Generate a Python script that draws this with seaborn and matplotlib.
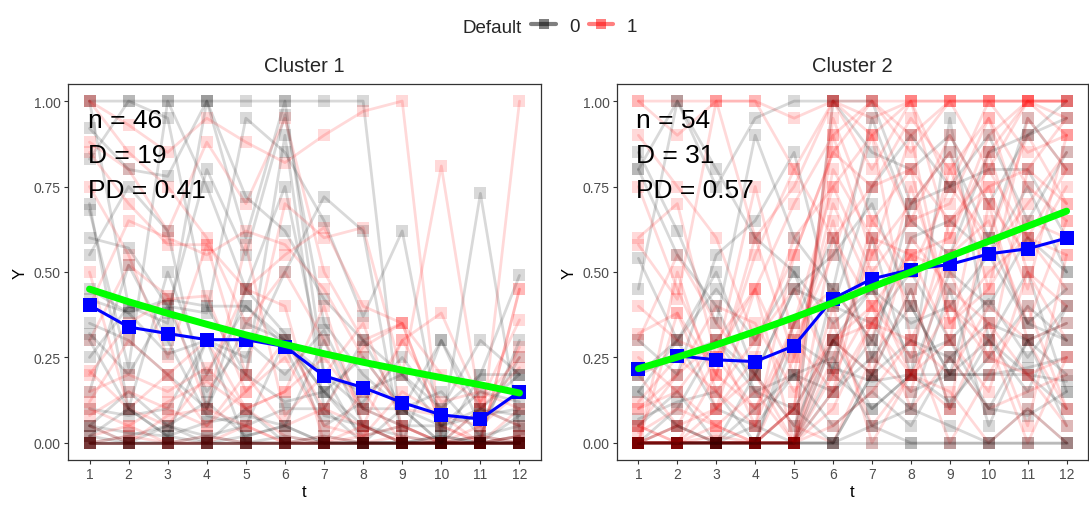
import numpy as np
import pandas as pd
import matplotlib
matplotlib.use("Agg")
import matplotlib.pyplot as plt
from matplotlib.lines import Line2D
import seaborn as sns

# ---------------- data ----------------
t_vals = list(range(1, 13))

c1_traj = [
    [1, 1, 1, 1, 1, 1, 1, 1, 0, 0, 0, 0],
    [1, .93, .85, .95, .88, .82, .9, .97, 1, 0, 0, 0],
    [1, .4, .35, 1, .6, 1, .2, 0, 0, 0, 0, 0],
    [1, .85, .75, .6, .35, .5, .3, .1, .05, 0, 0, 1],
    [.83, 1, .95, .4, .2, .9, .1, 0, 0, 0, .02, 0],
    [.88, .8, .62, .88, .7, .95, .5, .3, .35, .05, 0, .45],
    [.68, .22, 1, .75, .45, .32, .08, .05, 0, 0, 0, .02],
    [.75, .55, .25, .58, .2, .7, .6, .63, .2, .81, .1, .22],
    [.6, .57, .4, .38, .95, .85, .65, .37, .62, .03, .73, .04],
    [.5, .1, .2, .3, .1, .15, .4, .05, .3, .38, .12, .36],
    [.45, .38, .42, .4, .4, .28, .05, .12, .25, .1, .2, .49],
    [.3, .52, .43, .1, .58, .08, .2, .35, .05, 0, 0, .1],
    [.42, .38, .26, .3, .25, .5, .72, .62, 0, .3, .05, .25],
    [.35, .3, .2, .1, .35, .3, .2, .15, .2, .1, .3, .2],
    [.2, .35, .42, .43, .15, .3, .1, .28, .35, .05, 0, .45],
    [.32, .2, .4, .15, .3, .2, .33, .1, .1, .3, .1, .05],
    [.21, .1, .05, .2, .45, .4, 0, .15, 0, 0, .05, .28],
    [.15, .52, .3, .08, .05, .1, .1, .3, .1, 0, .1, .2],
    [.15, .2, .15, .22, .1, .15, .25, .1, .3, .12, .15, .1],
    [.1, .08, .1, .3, .2, .12, .15, .02, .05, 0, .02, .05],
    [.12, .3, .2, .05, .15, .25, .05, .02, .15, .08, 0, .02],
    [.05, .15, .05, .12, .02, .05, 0, 0, .1, .05, .15, .12],
    [.08, .15, .1, .05, .2, .05, .1, .05, 0, 0, .1, .05],
    [.05, .03, .02, .06, .08, .05, .3, .05, .02, 0, 0, 0],
    [.02, .05, .12, .18, .1, .02, 0, .02, .05, 0, .02, 0],
    [0, .02, .05, .02, .05, .3, .15, .05, 0, .02, 0, .08],
    [.05, 0, .08, .1, .05, 0, .02, 0, .02, 0, 0, .02],
    [.3, .1, .02, 0, .02, .05, 0, 0, 0, .02, 0, 0],
    [.1, .05, 0, .02, 0, 0, 0, .05, 0, 0, 0, 0],
    [.02, 0, .05, 0, .1, 0, .02, 0, 0, 0, 0, 0],
    [0, .02, 0, 0, .05, 0, 0, 0, 0, 0, 0, 0],
    [.02, .1, .02, .3, 0, .02, 0, 0, 0, 0, 0, .02],
    [.05, 0, 0, 0, 0, 0, 0, 0, 0, 0, 0, 0],
    [0, 0, 0, .02, 0, 0, 0, 0, 0, 0, 0, 0],
    [0, 0, 0, 0, 0, 0, 0, 0, 0, 0, 0, 0],
    [0, 0, 0, 0, 0, 0, 0, 0, 0, 0, 0, 0],
    [0, 0, 0, 0, 0, 0, 0, 0, 0, 0, 0, 0],
    [0, 0, 0, 0, 0, 0, 0, 0, 0, 0, 0, 0],
    [0, 0, 0, 0, 0, 0, 0, 0, 0, 0, 0, 0],
    [0, 0, 0, 0, 0, 0, 0, 0, 0, 0, 0, 0],
    [.4, .65, .6, .55, .62, .58, .45, .25, .1, .08, .05, .15],
    [.92, .8, .78, 1, .72, .62, .42, .3, .2, .05, .1, .08],
    [.85, .7, .58, .58, .45, .55, .63, .4, .35, .2, .12, .25],
    [.25, .4, .38, .8, .55, .96, .35, .2, .1, .15, .02, .3],
    [.7, .1, .5, .2, .4, .3, .15, .25, .1, 0, .2, .2],
    [.55, .75, .62, .1, .45, .75, .2, .1, .05, .05, .08, .1],
]
c1_default = [0, 1, 0, 1, 0, 1, 0, 1, 0, 1, 0, 1, 0, 0, 1, 0, 1, 0, 1, 0, 1, 0, 1,
              0, 1, 0, 1, 0, 1, 0, 1, 0, 0, 0, 1, 0, 0, 0, 1, 0, 1, 0, 1, 0, 0, 0]

c2_traj = [
    [1, 1, 1, 1, .8, 1, 1, 1, 1, 1, 1, 1],
    [1, .9, 1, 1, .95, 1, .9, 1, 1, 1, 1, 1],
    [.45, 1, .75, .95, 1, 1, .85, .8, .9, .7, .9, 1],
    [.9, .75, .6, .3, .55, .85, 1, .9, 1, 1, 1, .95],
    [.58, .42, 1, .6, .75, 1, .95, 1, .75, 1, .85, .9],
    [0, 0, 0, 0, 0, 1, 1, .7, .85, .6, .95, .8],
    [0, 0, 0, 0, 0, 1, .8, 1, .6, .9, 1, 1],
    [0, 0, 0, 0, .1, .9, 1, .85, 1, .8, 1, .9],
    [.54, .3, .5, .2, .45, .4, .35, .5, .3, .42, .25, .4],
    [.32, .38, .1, .25, .6, .75, .5, .65, .7, .95, .6, .8],
    [.1, .2, .3, .45, .2, .8, .6, .4, .8, .55, .7, .85],
    [.07, .12, .15, 0, .3, .22, .6, .2, .95, .3, .5, .15],
    [.2, .05, .25, .75, .3, .55, .9, .3, .55, .65, .35, .65],
    [0, .38, .2, .1, .35, .45, .3, .75, .4, .25, .8, .7],
    [0, 0, 0, 0, 0, .22, .18, .2, .2, .2, .22, .25],
    [.1, .15, .05, 0, .25, .7, .45, .2, .3, .15, .5, .3],
    [.2, .25, .3, .15, .2, .15, .3, .15, .2, .2, .2, .18],
    [.05, 0, .2, .55, .8, .6, .75, .8, .65, .8, .6, .55],
    [0, .05, 0, 0, .1, .3, .35, .3, .2, .4, .3, .35],
    [.15, .3, .1, .05, 0, .45, .3, .6, .65, .55, .75, .5],
    [.3, .55, .35, .2, .05, 0, .25, .15, .55, .75, .45, .9],
    [0, 0, 0, 0, 0, 0, .05, 0, 0, 0, 0, 0],
    [.05, .2, .4, .35, .15, .3, .2, .45, .1, .7, .3, .1],
    [0, .05, 0, 0, .1, .3, .2, .45, .1, .3, .2, .1],
    [0, 0, .02, 0, 0, .25, .55, .9, .35, .5, .6, .45],
    [.3, .2, .55, .65, .85, .4, .75, .9, .75, .8, .8, .6],
    [.75, .45, .2, .6, .25, .65, .2, .6, .45, .35, .05, .55],
    [.2, .3, .45, .3, .5, .2, .1, .2, .5, .4, .6, .5],
    [.12, .25, .15, .3, .45, .2, .4, .1, .25, .1, .15, .2],
    [.05, .15, 0, .1, .2, .05, .15, .05, .25, .35, .3, .05],
    [0, 0, 0, 0, 0, .05, .15, .3, 0, .2, .4, .1],
    [.8, 1, .8, .6, .5, .35, .45, .25, .3, .1, .3, .35],
    [0, 0, 0, 0, 0, .35, .05, .2, .15, 0, .1, 0],
    [0, .1, .3, .2, .05, .3, .45, .35, .4, .55, .35, .45],
    [0, .05, .1, .2, 0, .2, .65, .5, .75, .6, .9, .7],
    [.15, .05, 0, .2, .45, .55, .7, .4, .2, .3, .15, .4],
    [0, 0, 0, 0, 0, .4, 0, .2, .1, .35, .2, .25],
    [0, 0, 0, .05, .2, .25, .05, .1, .45, .05, .3, .2],
    [.4, .3, .25, .1, .3, .15, .6, .55, .3, .85, .5, .4],
    [0, 0, 0, 0, .35, .6, .25, .7, .75, .9, .65, .85],
    [0, 0, 0, 0, 0, .3, .4, .25, .65, .75, .8, .95],
    [.8, .55, .4, .15, .1, 0, .2, .1, .05, 0, .1, 0],
    [.6, .7, .25, .45, .7, .9, .55, .7, .85, .45, .95, .8],
    [0, 0, 0, 0, 0, .15, .25, .4, .2, .6, .35, .3],
    [.03, .1, .05, .15, 0, .1, .35, .55, .5, .25, .2, .05],
    [0, 0, 0, 0, 0, 0, .2, .3, .25, .1, .08, .15],
    [0, 0, 0, 0, 0, .6, .4, .55, .6, .85, 1, 1],
    [.25, .15, .3, .05, .55, .85, .75, .95, .8, .95, .75, .65],
    [.85, .62, .35, .9, .6, .45, .95, .65, .55, .85, .9, .95],
    [0, .5, .15, .05, .35, .75, .9, .65, .9, .7, .55, .75],
    [.05, 0, .05, 0, .1, .95, .65, .8, .35, .45, .65, .6],
    [0, 0, 0, 0, 0, .3, .1, .2, .12, .25, .4, .3],
    [0, 0, .1, .45, 0, .15, .35, .2, .4, .3, 0, .25],
    [0, 0, 0, 0, 0, 0, 0, 0, 0, 0, 0, 0],
]
c2_default = [1, 1, 0, 1, 1, 0, 1, 1, 0, 1, 1, 0, 1, 1, 0, 1, 0, 1, 1, 0, 1, 0, 1, 0, 1, 0, 1,
              0, 1, 0, 1, 0, 1, 0, 1, 0, 1, 0, 1, 0, 1, 0, 1, 0, 1, 0, 1, 1, 0, 1, 1, 0, 1, 0]

c1_mean = [0.403, 0.339, 0.320, 0.302, 0.302, 0.282, 0.196, 0.162, 0.118, 0.082, 0.070, 0.150]
c2_mean = [0.216, 0.255, 0.243, 0.238, 0.284, 0.422, 0.480, 0.507, 0.522, 0.553, 0.568, 0.599]

c1_fit = [0.450, 0.413, 0.379, 0.347, 0.316, 0.288, 0.261, 0.236, 0.213, 0.191, 0.170, 0.146]
c2_fit = [0.217, 0.251, 0.287, 0.326, 0.367, 0.410, 0.456, 0.500, 0.546, 0.590, 0.634, 0.678]

cluster_titles = ["Cluster 1", "Cluster 2"]
cluster_notes = [["n = 46", "D = 19", "PD = 0.41"], ["n = 54", "D = 31", "PD = 0.57"]]
y_ticks = [0.0, 0.25, 0.5, 0.75, 1.0]
y_ticklabels = ["0.00", "0.25", "0.50", "0.75", "1.00"]
legend_title = "Default"
legend_labels = ["0", "1"]

# ---------------- style ----------------
sns.set_style("white")
plt.rcParams["font.family"] = ["Liberation Sans", "DejaVu Sans"]

W, H = 1089, 506
fig = plt.figure(figsize=(W / 100, H / 100), dpi=100)
ax1 = fig.add_axes([68 / W, 1 - 461 / H, 473 / W, 376 / H])
ax2 = fig.add_axes([617 / W, 1 - 461 / H, 471 / W, 376 / H])

palette = {0: "black", 1: "red"}
panels = [
    (ax1, c1_traj, c1_default, c1_mean, c1_fit),
    (ax2, c2_traj, c2_default, c2_mean, c2_fit),
]

for k, (ax, traj, flags, mean, fit) in enumerate(panels):
    # individual trajectories, drawn one by one in id order (interleaving the groups)
    for i, (vals, f) in enumerate(zip(traj, flags)):
        tdf = pd.DataFrame({"t": t_vals, "Y": vals})
        sns.lineplot(data=tdf, x="t", y="Y", color=palette[f], marker="s",
                     markersize=8.6, markeredgewidth=0, lw=2.0, alpha=0.15,
                     sort=False, ax=ax)
    mdf = pd.DataFrame({"t": t_vals, "Y": mean})
    sns.lineplot(data=mdf, x="t", y="Y", color="blue", marker="s", markersize=9.4,
                 markeredgewidth=0, lw=2.2, ax=ax, zorder=5)
    fdf = pd.DataFrame({"t": t_vals, "Y": fit})
    sns.lineplot(data=fdf, x="t", y="Y", color="#00FF00", lw=5.0, ax=ax, zorder=6)

    ax.set_xlim(0.45, 12.55)
    ax.set_ylim(-0.05, 1.05)
    ax.set_xticks(t_vals)
    ax.set_xticklabels([str(t) for t in t_vals])
    ax.set_yticks(y_ticks)
    ax.set_yticklabels(y_ticklabels)
    ax.tick_params(axis="both", which="both", length=3.2, width=0.8, color="#333333",
                   labelsize=10, labelcolor="#4D4D4D", pad=2, left=True, bottom=True)
    for s in ax.spines.values():
        s.set_visible(True)
        s.set_color("#333333")
        s.set_linewidth(0.9)
    ax.set_xlabel("t", fontsize=12, color="black", labelpad=2)
    ax.set_ylabel("Y", fontsize=12, color="black", labelpad=4)
    ax.grid(False)
    ax.set_facecolor("white")

    for txt, yy in zip(cluster_notes[k], [0.924, 0.822, 0.720]):
        ax.text(0.95, yy, txt, fontsize=19, ha="left", va="baseline", color="black", zorder=10)

fig.text((68 + 541) / 2 / W, 1 - 72 / H, cluster_titles[0], ha="center", va="baseline", fontsize=14.5)
fig.text((617 + 1088) / 2 / W, 1 - 72 / H, cluster_titles[1], ha="center", va="baseline", fontsize=14.5)

# legend
fig.text(463 / W, 1 - 33.5 / H, legend_title, ha="left", va="baseline", fontsize=13.5)
handles = [
    Line2D([], [], color=palette[0], alpha=0.5, lw=3, marker="s", markersize=7.5, markeredgewidth=0),
    Line2D([], [], color=palette[1], alpha=0.5, lw=3, marker="s", markersize=7.5, markeredgewidth=0),
]
fig.legend(handles, legend_labels, ncol=2, frameon=False, loc="center",
           bbox_to_anchor=(584 / W, 1 - 27 / H), fontsize=13.5, handlelength=1.3,
           handletextpad=0.7, columnspacing=0.5, borderpad=0.2)

fig.savefig("out.png", dpi=100, facecolor="white")
